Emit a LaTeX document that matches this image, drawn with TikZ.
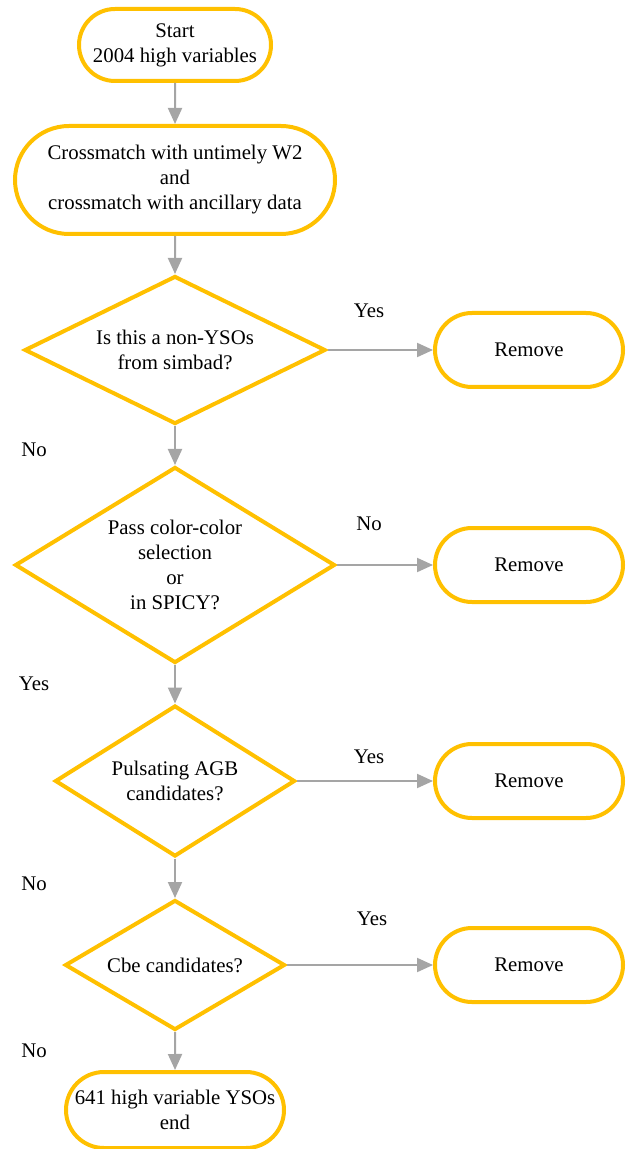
\documentclass[tikz,border=0pt]{standalone}
\usepackage{fontspec}
\setmainfont{Liberation Serif}
\usetikzlibrary{shapes.misc,shapes.geometric,arrows.meta}
\definecolor{boxgold}{HTML}{FFC000}
\definecolor{arrowgray}{HTML}{A5A5A5}
\begin{document}
\begin{tikzpicture}[x=0.5pt,y=-0.5pt,font=\fontsize{10.4}{12.5}\selectfont]
		\tikzset{termbox/.style = {shape=rounded rectangle,draw=boxgold,line width=2pt,align=center,inner sep=0pt}}
		\tikzset{decision/.style = {shape=diamond,draw=boxgold,line width=2pt,align=center,inner sep=0pt}}
		\tikzset{edge/.style = {-{Triangle[width=7pt,length=8pt]},draw=arrowgray,fill=arrowgray,line width=1pt}}
		\useasboundingbox (0,0) rectangle (638,1149);
		\node[termbox,minimum width=96pt,minimum height=36pt] (start) at (175,45) {Start\\2004 high variables};
		\node[termbox,minimum width=160pt,minimum height=54pt] (cross) at (175,180) {Crossmatch with untimely W2\\and\\crossmatch with ancillary data};
		\node[decision,minimum width=150.5pt,minimum height=74pt,aspect=2] (simbad) at (175,350) {Is this a non-YSOs\\from simbad?};
		\node[decision,minimum width=160pt,minimum height=98pt,aspect=1.6] (color) at (175,565) {Pass color-color\\selection\\or\\in SPICY?};
		\node[decision,minimum width=120pt,minimum height=75.5pt,aspect=1.6] (agb) at (175,781) {Pulsating AGB\\candidates?};
		\node[decision,minimum width=110pt,minimum height=65pt,aspect=1.7] (cbe) at (175,965) {Cbe candidates?};
		\node[termbox,minimum width=109pt,minimum height=38pt] (yso) at (175,1110) {641 high variable YSOs\\end};
		\node[termbox,minimum width=94pt,minimum height=37pt] (rmA) at (529,350) {Remove};
		\node[termbox,minimum width=94pt,minimum height=37pt] (rmB) at (529,565) {Remove};
		\node[termbox,minimum width=94pt,minimum height=37pt] (rmC) at (529,781) {Remove};
		\node[termbox,minimum width=94pt,minimum height=37pt] (rmD) at (529,965) {Remove};
		% answers
		\node (yesA) at (369,311) {Yes};
		\node (noA) at (34,450) {No};
		\node (noB) at (369,524) {No};
		\node (yesB) at (34,684) {Yes};
		\node (yesC) at (369,757) {Yes};
		\node (noC) at (34,884) {No};
		\node (yesD) at (372,919) {Yes};
		\node (noD) at (34,1051) {No};
		\path[edge] (start) edge (cross);
		\path[edge] (cross) edge (simbad);
		\path[edge] (simbad) edge (rmA);
		\path[edge] (simbad) edge (color);
		\path[edge] (color) edge (rmB);
		\path[edge] (color) edge (agb);
		\path[edge] (agb) edge (rmC);
		\path[edge] (agb) edge (cbe);
		\path[edge] (cbe) edge (rmD);
		\path[edge] (cbe) edge (yso);
	\end{tikzpicture}
\end{document}
